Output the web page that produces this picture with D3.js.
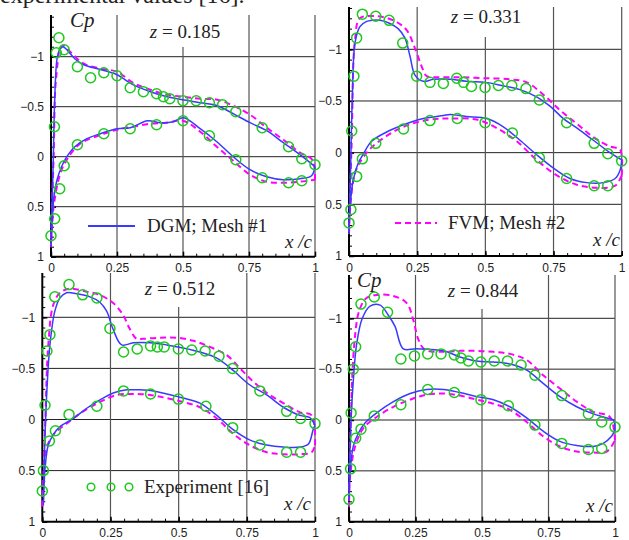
<!DOCTYPE html>
<html>
<head>
<meta charset="utf-8">
<script src="https://cdn.jsdelivr.net/npm/d3@7.9.0/dist/d3.min.js"></script>
<style>
  body { margin: 0; background: #fff; }
  svg { display: block; }
  .tick text { font-family: "Liberation Sans", Arial, sans-serif; font-size: 12px; fill: #222; }
  .serif { font-family: "Liberation Serif", "Times New Roman", serif; fill: #222; }
</style>
</head>
<body>
<svg id="chart" width="629" height="540"></svg>
<script>
// Span stations z and tick values
const spans = ['0.185', '0.331', '0.512', '0.844'];
const xTicks = [0, 0.25, 0.5, 0.75, 1];
const yTicks = [-1, -0.5, 0, 0.5, 1];
const yGrid = [-1, -0.5, 0, 0.5];
const xGrid = [0.25, 0.5, 0.75, 1];

// Experiment [16], [x/c, Cp]
const exp185 = [[0,0.79],[0.014,0.62],[0.013,-0.30],[0.02,-1.04],[0.03,-1.19],[0.05,-1.07],[0.10,-0.90],[0.15,-0.79],[0.20,-0.84],[0.25,-0.81],[0.30,-0.69],[0.35,-0.65],[0.40,-0.63],[0.426,-0.60],[0.45,-0.58],[0.50,-0.56],[0.55,-0.56],[0.60,-0.54],[0.65,-0.52],[0.70,-0.45],[0.80,-0.29],[0.90,-0.10],[0.95,0.02],[1.0,0.08],
  [0.033,0.32],[0.05,0.09],[0.10,-0.12],[0.20,-0.23],[0.30,-0.28],[0.40,-0.32],[0.50,-0.36],[0.60,-0.21],[0.70,0.03],[0.80,0.21],[0.90,0.26],[0.95,0.24]];
const exp331 = [[0,0.68],[0.007,0.55],[0.01,-0.21],[0.018,-0.74],[0.028,-1.11],[0.049,-1.34],[0.098,-1.32],[0.147,-1.28],[0.197,-1.06],[0.248,-0.74],[0.297,-0.68],[0.346,-0.67],[0.395,-0.72],[0.42,-0.68],[0.449,-0.64],[0.499,-0.63],[0.548,-0.65],[0.597,-0.65],[0.649,-0.62],[0.698,-0.51],[0.798,-0.29],[0.899,-0.09],[0.949,0.01],[1.0,0.08],
  [0.028,0.23],[0.049,0.06],[0.098,-0.09],[0.20,-0.23],[0.297,-0.31],[0.397,-0.33],[0.499,-0.29],[0.599,-0.19],[0.698,0.05],[0.798,0.25],[0.899,0.32],[0.949,0.32]];
const exp512 = [[0,0.70],[0.004,0.50],[0.01,-0.14],[0.017,-0.67],[0.028,-0.83],[0.046,-1.20],[0.098,-1.32],[0.148,-1.22],[0.20,-1.19],[0.248,-0.89],[0.298,-0.66],[0.348,-0.69],[0.397,-0.72],[0.422,-0.71],[0.447,-0.71],[0.499,-0.69],[0.548,-0.68],[0.597,-0.67],[0.648,-0.62],[0.698,-0.50],[0.798,-0.28],[0.896,-0.08],[0.947,-0.01],[1.0,0.04],
  [0.026,0.21],[0.048,0.11],[0.098,-0.05],[0.20,-0.13],[0.298,-0.28],[0.397,-0.25],[0.499,-0.20],[0.60,-0.13],[0.698,0.08],[0.798,0.25],[0.896,0.32],[0.947,0.32]];
const exp844 = [[0,0.78],[0.006,0.48],[0.008,-0.07],[0.016,-0.50],[0.025,-0.72],[0.045,-1.14],[0.095,-1.21],[0.145,-1.06],[0.195,-0.60],[0.246,-0.63],[0.296,-0.65],[0.346,-0.65],[0.396,-0.64],[0.421,-0.61],[0.449,-0.58],[0.496,-0.57],[0.546,-0.58],[0.596,-0.58],[0.647,-0.54],[0.699,-0.44],[0.80,-0.24],[0.90,-0.06],[0.95,0.02],[1.0,0.07],
  [0.025,0.18],[0.045,0.09],[0.095,-0.04],[0.195,-0.15],[0.296,-0.30],[0.396,-0.27],[0.496,-0.20],[0.599,-0.14],[0.699,0.05],[0.80,0.23],[0.90,0.29],[0.95,0.28]];

// DGM; Mesh #1 (upper and lower surface, leading edge first)
const dgmUp185 = [[0,0.9],[0.008,0.1],[0.014,-0.57],[0.023,-0.98],[0.033,-1.07],[0.045,-1.10],[0.06,-1.07],[0.09,-0.98],[0.124,-0.92],[0.19,-0.87],[0.25,-0.82],[0.31,-0.72],[0.376,-0.65],[0.44,-0.60],[0.50,-0.57],[0.565,-0.54],[0.63,-0.51],[0.69,-0.43],[0.754,-0.34],[0.817,-0.26],[0.88,-0.14],[0.943,-0.02],[1,0.10]];
const dgmLo185 = [[0,0.9],[0.01,0.43],[0.023,0.23],[0.04,0.10],[0.06,0.0],[0.09,-0.10],[0.136,-0.18],[0.187,-0.23],[0.25,-0.28],[0.30,-0.29],[0.366,-0.36],[0.414,-0.34],[0.464,-0.35],[0.502,-0.39],[0.565,-0.28],[0.628,-0.15],[0.69,0.0],[0.754,0.13],[0.817,0.20],[0.88,0.23],[0.943,0.22],[0.987,0.19],[1,0.10]];
const dgmUp331 = [[0,0.78],[0.006,0.14],[0.012,-0.51],[0.022,-1.06],[0.04,-1.22],[0.065,-1.27],[0.083,-1.28],[0.114,-1.28],[0.15,-1.25],[0.18,-1.20],[0.205,-1.11],[0.224,-0.93],[0.242,-0.75],[0.273,-0.69],[0.31,-0.71],[0.37,-0.71],[0.43,-0.69],[0.50,-0.68],[0.56,-0.65],[0.627,-0.61],[0.688,-0.54],[0.737,-0.45],[0.786,-0.33],[0.835,-0.24],[0.896,-0.12],[0.957,0.0],[1,0.07]];
const dgmLo331 = [[0,0.78],[0.004,0.52],[0.016,0.26],[0.034,0.10],[0.053,0.01],[0.083,-0.11],[0.138,-0.20],[0.20,-0.27],[0.273,-0.33],[0.346,-0.36],[0.37,-0.37],[0.43,-0.35],[0.505,-0.33],[0.566,-0.25],[0.627,-0.12],[0.688,0.02],[0.75,0.15],[0.81,0.25],[0.872,0.29],[0.933,0.29],[0.976,0.25],[0.994,0.17],[1,0.07]];
const dgmUp512 = [[0.004,0.84],[0.007,0.41],[0.016,-0.24],[0.028,-0.73],[0.046,-1.06],[0.065,-1.19],[0.089,-1.24],[0.126,-1.23],[0.175,-1.20],[0.21,-1.15],[0.236,-1.06],[0.26,-0.88],[0.291,-0.73],[0.334,-0.75],[0.395,-0.75],[0.456,-0.73],[0.517,-0.70],[0.578,-0.66],[0.64,-0.60],[0.70,-0.48],[0.76,-0.34],[0.823,-0.24],[0.884,-0.12],[0.945,-0.04],[0.98,-0.02],[1,0.06]];
const dgmLo512 = [[0.004,0.84],[0.01,0.48],[0.022,0.25],[0.04,0.15],[0.065,0.07],[0.114,-0.01],[0.163,-0.11],[0.21,-0.19],[0.26,-0.26],[0.31,-0.29],[0.358,-0.29],[0.407,-0.28],[0.456,-0.25],[0.517,-0.21],[0.578,-0.16],[0.64,-0.04],[0.70,0.10],[0.76,0.20],[0.823,0.25],[0.884,0.27],[0.945,0.27],[0.976,0.24],[0.994,0.09],[1,0.06]];
const dgmUp844 = [[0,0.79],[0.004,0.26],[0.013,-0.26],[0.029,-0.75],[0.05,-1.00],[0.079,-1.12],[0.117,-1.13],[0.148,-1.03],[0.173,-0.92],[0.204,-0.70],[0.254,-0.70],[0.355,-0.68],[0.417,-0.62],[0.48,-0.58],[0.543,-0.57],[0.605,-0.55],[0.668,-0.49],[0.73,-0.36],[0.793,-0.23],[0.856,-0.13],[0.918,-0.06],[0.969,-0.02],[0.994,0.0],[1,0.10]];
const dgmLo844 = [[0,0.79],[0.004,0.52],[0.016,0.26],[0.035,0.13],[0.06,0.03],[0.104,-0.07],[0.167,-0.18],[0.23,-0.26],[0.292,-0.30],[0.355,-0.30],[0.417,-0.27],[0.48,-0.23],[0.543,-0.20],[0.605,-0.13],[0.668,-0.02],[0.73,0.11],[0.793,0.21],[0.856,0.25],[0.918,0.26],[0.956,0.23],[0.987,0.16],[1,0.10]];

// FVM; Mesh #2
const fvmUp185 = [[0,0.9],[0.01,0.0],[0.02,-0.8],[0.042,-1.11],[0.08,-1.03],[0.124,-0.93],[0.19,-0.88],[0.25,-0.85],[0.31,-0.74],[0.376,-0.67],[0.44,-0.62],[0.50,-0.60],[0.565,-0.58],[0.63,-0.57],[0.69,-0.51],[0.754,-0.42],[0.817,-0.29],[0.88,-0.17],[0.943,-0.04],[0.99,0.03],[1,0.23]];
const fvmLo185 = [[0,0.9],[0.01,0.5],[0.035,0.17],[0.06,0.03],[0.11,-0.13],[0.19,-0.22],[0.25,-0.27],[0.31,-0.30],[0.376,-0.33],[0.44,-0.34],[0.50,-0.36],[0.565,-0.25],[0.628,-0.10],[0.69,0.04],[0.754,0.18],[0.817,0.25],[0.88,0.26],[0.943,0.25],[1,0.23]];
const fvmUp331 = [[0,0.78],[0.01,-0.12],[0.022,-1.09],[0.04,-1.30],[0.10,-1.32],[0.163,-1.28],[0.21,-1.19],[0.242,-1.01],[0.267,-0.83],[0.285,-0.74],[0.32,-0.73],[0.407,-0.73],[0.50,-0.72],[0.59,-0.71],[0.652,-0.68],[0.713,-0.56],[0.774,-0.41],[0.835,-0.28],[0.896,-0.15],[0.957,-0.06],[0.994,-0.03],[1,0.22]];
const fvmLo331 = [[0,0.78],[0.004,0.55],[0.022,0.20],[0.053,0.04],[0.10,-0.09],[0.20,-0.25],[0.297,-0.32],[0.37,-0.33],[0.468,-0.32],[0.54,-0.24],[0.615,-0.11],[0.688,0.07],[0.762,0.22],[0.835,0.31],[0.908,0.34],[0.976,0.32],[1,0.22]];
const fvmUp512 = [[0,0.87],[0.01,0.09],[0.022,-0.73],[0.04,-1.12],[0.065,-1.24],[0.10,-1.28],[0.163,-1.25],[0.21,-1.22],[0.26,-1.14],[0.297,-1.02],[0.32,-0.89],[0.346,-0.79],[0.37,-0.79],[0.43,-0.80],[0.493,-0.80],[0.554,-0.77],[0.615,-0.71],[0.676,-0.63],[0.725,-0.50],[0.774,-0.37],[0.823,-0.26],[0.884,-0.16],[0.945,-0.07],[0.988,-0.04],[1,0.25]];
const fvmLo512 = [[0,0.87],[0.004,0.58],[0.016,0.28],[0.04,0.15],[0.089,0.04],[0.15,-0.08],[0.21,-0.17],[0.273,-0.24],[0.334,-0.25],[0.395,-0.24],[0.456,-0.21],[0.517,-0.17],[0.578,-0.12],[0.64,-0.01],[0.70,0.14],[0.76,0.25],[0.823,0.32],[0.884,0.34],[0.945,0.34],[0.988,0.32],[1,0.25]];
const fvmUp844 = [[0,0.85],[0.006,0.07],[0.02,-0.75],[0.039,-1.08],[0.066,-1.20],[0.104,-1.23],[0.167,-1.22],[0.217,-1.15],[0.242,-0.98],[0.261,-0.79],[0.286,-0.69],[0.355,-0.67],[0.417,-0.68],[0.48,-0.68],[0.543,-0.67],[0.605,-0.65],[0.668,-0.59],[0.73,-0.44],[0.793,-0.31],[0.856,-0.18],[0.918,-0.08],[0.981,-0.03],[1,0.20]];
const fvmLo844 = [[0,0.85],[0.004,0.56],[0.023,0.26],[0.054,0.08],[0.104,-0.03],[0.167,-0.13],[0.23,-0.20],[0.292,-0.25],[0.355,-0.26],[0.417,-0.24],[0.48,-0.20],[0.543,-0.16],[0.605,-0.10],[0.668,0.02],[0.73,0.16],[0.793,0.26],[0.856,0.31],[0.918,0.32],[0.969,0.31],[1,0.20]];

const expData = [exp185, exp331, exp512, exp844];
const dgmData = [[dgmUp185, dgmLo185], [dgmUp331, dgmLo331], [dgmUp512, dgmLo512], [dgmUp844, dgmLo844]];
const fvmData = [[fvmUp185, fvmLo185], [fvmUp331, fvmLo331], [fvmUp512, fvmLo512], [fvmUp844, fvmLo844]];

// panel placement on the page
const panels = [
  { x0: 51, x1: 315, ym1: 56.7, yp1: 256.7, top: 15, tx: 185, ty: 38, gt: 47, cp: [70, 27], xc: [312, 248] },
  { x0: 349, x1: 621.7, ym1: 49.3, yp1: 256, top: 7, tx: 486, ty: 23, gt: 37, cp: null, xc: [620, 246] },
  { x0: 42.3, x1: 315, ym1: 317.3, yp1: 521.7, top: 273, tx: 180, ty: 295, gt: 307, cp: null, xc: [311, 510] },
  { x0: 349, x1: 615, ym1: 318.3, yp1: 521.7, top: 275, tx: 483, ty: 297, gt: 309, cp: [357, 287], xc: [613, 512] }
];

const blue = '#3a3aff', magenta = '#ff00ff', green = '#1ec81e';
const svg = d3.select('#chart');

// caption line of the page above, cropped by the picture edge as in the source
svg.append('text').attr('class', 'serif')
  .attr('x', 0).attr('y', 3)
  .style('font-size', '24px')
  .text('experimental values [16].');

panels.forEach((p, i) => {
  const x = d3.scaleLinear().domain([0, 1]).range([p.x0, p.x1]);
  const y = d3.scaleLinear().domain([-1, 1]).range([p.ym1, p.yp1]);
  const g = svg.append('g');

  // grid
  g.selectAll('.hg').data(yGrid).join('line')
    .attr('x1', p.x0).attr('x2', p.x1)
    .attr('y1', d => y(d)).attr('y2', d => y(d))
    .attr('stroke', '#222').attr('stroke-width', 1);
  g.selectAll('.vg').data(xGrid).join('line')
    .attr('x1', d => x(d)).attr('x2', d => x(d))
    .attr('y1', d => d === 0.5 ? p.gt : p.top).attr('y2', y(1))
    .attr('stroke', '#555').attr('stroke-width', 1.2);

  // minor ticks
  g.append('g').attr('transform', `translate(0,${y(1)})`)
    .call(d3.axisBottom(x).tickValues(d3.range(0, 1.001, 0.05)).tickSize(-3).tickFormat(''))
    .call(a => a.select('.domain').remove());
  g.append('g').attr('transform', `translate(${p.x0},0)`)
    .call(d3.axisLeft(y).tickValues(d3.range(-1.4, 1.001, 0.1).filter(v => y(v) >= p.top)).tickSize(-3).tickFormat(''))
    .call(a => a.select('.domain').remove());

  // major axes
  const xa = g.append('g').attr('transform', `translate(0,${y(1)})`)
    .call(d3.axisBottom(x).tickValues(xTicks).tickSizeInner(-5).tickSizeOuter(0).tickPadding(7).tickFormat(d3.format('')));
  xa.select('.domain').attr('d', `M${p.x0},0H${p.x1}`).attr('stroke-width', 2);
  xa.selectAll('.tick line').attr('stroke-width', 1.5);

  const ya = g.append('g').attr('transform', `translate(${p.x0},0)`)
    .call(d3.axisLeft(y).tickValues(yTicks).tickSizeInner(-5).tickSizeOuter(0).tickPadding(7).tickFormat(d3.format('')));
  ya.select('.domain').attr('d', `M0,${p.top}V${y(1)}`).attr('stroke-width', 2);
  ya.selectAll('.tick line').attr('stroke-width', 1.5);

  // curves
  const line = d3.line().x(d => x(d[0])).y(d => y(d[1])).curve(d3.curveCatmullRom.alpha(0.5));
  const loop = s => s[0].slice().reverse().concat(s[1].slice(1));

  g.append('path').datum(loop(fvmData[i]))
    .attr('d', line).attr('fill', 'none')
    .attr('stroke', magenta).attr('stroke-width', 2).attr('stroke-dasharray', '6,4');
  g.append('path').datum(loop(dgmData[i]))
    .attr('d', line).attr('fill', 'none')
    .attr('stroke', blue).attr('stroke-width', 1.5);

  g.selectAll('.pt').data(expData[i]).join('circle')
    .attr('cx', d => x(d[0])).attr('cy', d => y(d[1])).attr('r', 5)
    .attr('fill', 'none').attr('stroke', green).attr('stroke-width', 1.5);

  // texts
  const t = g.append('text').attr('class', 'serif')
    .attr('x', p.tx).attr('y', p.ty).attr('text-anchor', 'middle').style('font-size', '19px');
  t.append('tspan').style('font-style', 'italic').text('z');
  t.append('tspan').text(' = ' + spans[i]);

  if (p.cp) {
    g.append('text').attr('class', 'serif')
      .attr('x', p.cp[0]).attr('y', p.cp[1])
      .style('font-size', '21px').style('font-style', 'italic').text('Cp');
  }
  g.append('text').attr('class', 'serif')
    .attr('x', p.xc[0]).attr('y', p.xc[1]).attr('text-anchor', 'end')
    .style('font-size', '19px').style('font-style', 'italic').text('x /c');
});

// legends
svg.append('line').attr('x1', 88).attr('x2', 135).attr('y1', 226).attr('y2', 226)
  .attr('stroke', blue).attr('stroke-width', 2);
svg.append('text').attr('class', 'serif').attr('x', 147).attr('y', 232)
  .style('font-size', '19px').text('DGM; Mesh #1');

svg.append('line').attr('x1', 395).attr('x2', 437).attr('y1', 223).attr('y2', 223)
  .attr('stroke', magenta).attr('stroke-width', 2).attr('stroke-dasharray', '6,4');
svg.append('text').attr('class', 'serif').attr('x', 448).attr('y', 229)
  .style('font-size', '19px').text('FVM; Mesh #2');

svg.selectAll('.lc').data([91, 111, 129]).join('circle')
  .attr('cx', d => d).attr('cy', 487).attr('r', 3.8)
  .attr('fill', 'none').attr('stroke', green).attr('stroke-width', 1.5);
svg.append('text').attr('class', 'serif').attr('x', 144).attr('y', 493)
  .style('font-size', '19px').text('Experiment [16]');
</script>
</body>
</html>
